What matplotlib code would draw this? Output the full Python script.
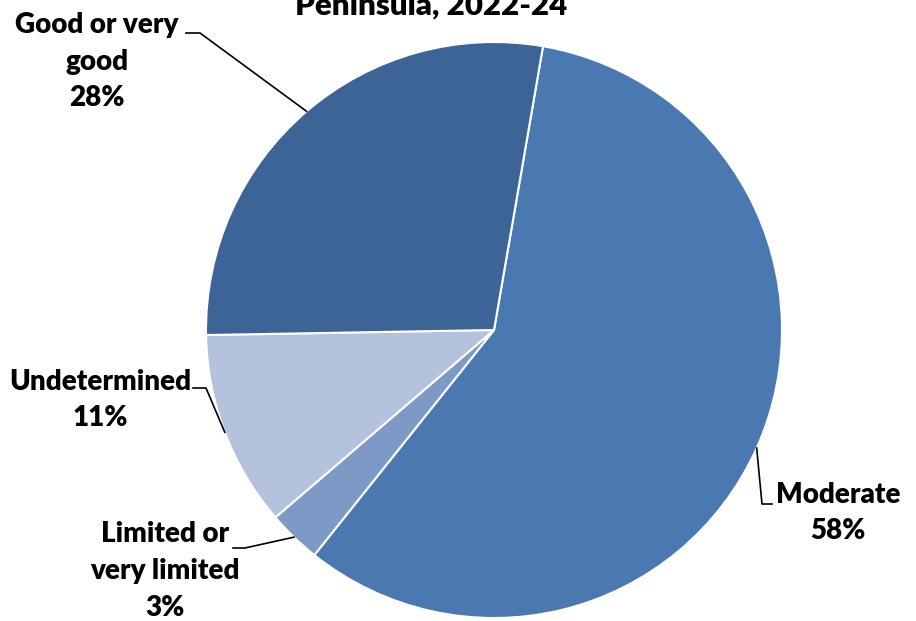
import matplotlib.pyplot as plt
import numpy as np

labels = ['Moderate', 'Limited or\nvery limited', 'Undetermined', 'Good or very\ngood']
shares = [58, 3, 11, 28]
colors = ['#4A78B0', '#7D9AC6', '#B4C2DE', '#3D6496']
title = 'Peninsula, 2022-24'

W, H = 916, 621
cx, cy, R = 494, 330, 288

def px(x, y):
    # pixel position -> pie data coords
    return (x - cx) / R, (cy - y) / R

plt.rcParams['font.family'] = ['Lato', 'DejaVu Sans']
fig = plt.figure(figsize=(W / 100, H / 100), dpi=100)
ax = fig.add_axes([(cx - R) / W, (H - cy - R) / H, 2 * R / W, 2 * R / H])

wedges, _ = ax.pie(shares, colors=colors, startangle=80.2, counterclock=False,
                   radius=1, wedgeprops=dict(edgecolor='white', linewidth=1.5))
ax.set_xlim(-1, 1)
ax.set_ylim(-1, 1)
ax.axis('off')

fs = 20
# (elbow, line end, text pos, text alignment)
layout = [
    (px(762, 504), px(772, 504), px(776, 513), 'left'),
    (px(245, 548), px(233, 548), px(165, 571), 'center'),
    (px(206, 388), px(193, 388), px(100, 400), 'center'),
    (px(200, 33), px(186, 33), px(97, 62), 'center'),
]
for w, lab, pct, (elbow, end, tpos, ha) in zip(wedges, labels, shares, layout):
    mid = np.deg2rad((w.theta1 + w.theta2) / 2)
    ex, ey = np.cos(mid), np.sin(mid)
    ax.plot([ex, elbow[0], end[0]], [ey, elbow[1], end[1]], color='black',
            lw=1.2, clip_on=False)
    ax.text(tpos[0], tpos[1], f'{lab}\n{pct}%', ha=ha, va='center',
            multialignment='center', fontsize=fs, fontweight='heavy',
            linespacing=1.5, clip_on=False)

fig.text(431 / W, 1 - 15 / H, title, ha='center', va='baseline',
         fontsize=22.5, fontweight='heavy')

fig.savefig('out.png', dpi=100)
